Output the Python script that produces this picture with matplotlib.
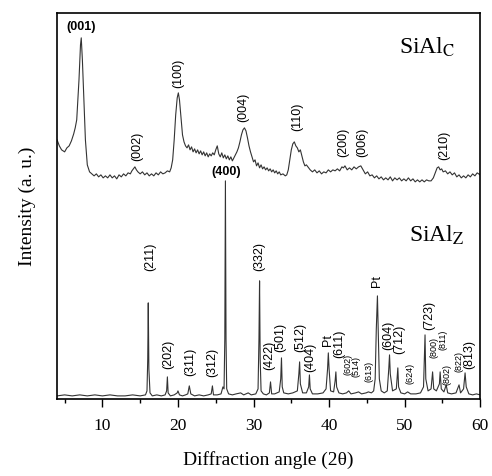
import matplotlib
matplotlib.use("Agg")
import matplotlib.pyplot as plt
import numpy as np
from matplotlib.ticker import MultipleLocator

plt.rcParams['mathtext.fontset'] = 'stix'

# SiAl_C pattern (2theta, intensity a.u.)
tt_c = [4.0, 4.3, 4.6, 5.0, 5.3, 5.6, 5.9, 6.2, 6.4, 6.6, 6.9, 7.1, 7.2, 7.35, 7.55, 7.75, 8.0, 8.3,
        8.6, 8.9, 9.2, 9.5, 9.8, 10.1, 10.4, 10.7, 11.0, 11.3, 11.6, 11.9, 12.2, 12.5, 12.8, 13.1,
        13.4, 13.7, 13.9, 14.1, 14.3, 14.5, 14.7, 15.0, 15.3, 15.6, 15.9, 16.2, 16.5, 16.8, 17.1,
        17.4, 17.7, 18.0, 18.3, 18.6, 18.9, 19.1, 19.3, 19.5, 19.7, 19.9, 20.05, 20.2, 20.4, 20.6,
        20.8, 21.0, 21.2, 21.4, 21.6, 21.8, 22.0, 22.2, 22.4, 22.6, 22.8, 23.0, 23.2, 23.4, 23.6,
        23.8, 24.0, 24.2, 24.4, 24.6, 24.8, 25.0, 25.2, 25.4, 25.6, 25.8, 26.0, 26.2, 26.4, 26.6,
        26.8, 27.0, 27.2, 27.4, 27.6, 27.8, 28.0, 28.2, 28.4, 28.6, 28.8, 29.0, 29.2, 29.4, 29.6,
        29.8, 30.0, 30.2, 30.4, 30.6, 30.8, 31.0, 31.2, 31.4, 31.6, 31.8, 32.0, 32.2, 32.4, 32.6,
        32.8, 33.0, 33.2, 33.4, 33.6, 33.9, 34.2, 34.4, 34.6, 34.8, 35.0, 35.2, 35.4, 35.6, 35.8,
        36.0, 36.2, 36.4, 36.6, 36.8, 37.0, 37.3, 37.5, 37.8, 38.1, 38.4, 38.7, 39.0, 39.3, 39.6,
        39.9, 40.2, 40.5, 40.8, 41.1, 41.4, 41.7, 41.9, 42.1, 42.4, 42.7, 43.0, 43.3, 43.6, 43.9,
        44.2, 44.5, 44.8, 45.1, 45.4, 45.7, 46.0, 46.3, 46.6, 46.9, 47.2, 47.5, 47.8, 48.1, 48.4,
        48.7, 49.0, 49.3, 49.6, 49.9, 50.2, 50.5, 50.8, 51.1, 51.4, 51.7, 52.0, 52.3, 52.6, 52.9,
        53.2, 53.5, 53.8, 54.1, 54.3, 54.5, 54.7, 54.9, 55.1, 55.4, 55.7, 56.0, 56.3, 56.6, 56.9,
        57.2, 57.5, 57.8, 58.1, 58.4, 58.7, 59.0, 59.3, 59.6, 60.0]
int_c = [259, 253, 249, 247, 251, 253, 258, 265, 271, 279, 319, 354, 361, 339, 299, 259, 234, 227,
         225, 223, 225, 222, 224, 221, 223, 221, 224, 221, 223, 220, 224, 222, 225, 223,
         226, 225, 228, 230, 232, 229, 227, 225, 227, 224, 226, 223, 225, 223, 226,
         224, 227, 225, 226, 228, 227, 231, 239, 259, 284, 301, 306, 299, 281, 264,
         257, 253, 251, 254, 249, 252, 247, 250, 246, 249, 245, 248, 244, 247, 243,
         246, 242, 245, 243, 246, 244, 249, 253, 245, 242, 246, 241, 244, 240, 243,
         239, 242, 238, 241, 244, 247, 251, 257, 264, 269, 271, 268, 261, 253, 247,
         242, 237, 239, 233, 236, 231, 234, 230, 232, 229, 231, 228, 230, 227, 229,
         226, 228, 225, 227, 224, 225, 223, 224, 229, 239, 249, 255, 257, 253, 251,
         247, 249, 243, 237, 233, 234, 231, 229, 227, 229, 226, 228, 225, 227, 226,
         229, 227, 229, 228, 230, 228, 232, 231, 233, 229, 231, 229, 232, 230, 232,
         233, 229, 225, 227, 223, 224, 221, 223, 220, 222, 219, 221, 219, 222, 218,
         221, 219, 221, 218, 220, 218, 221, 218, 220, 217, 219, 217, 219, 217, 219,
         218, 218, 221, 227, 231, 232, 229, 230, 227, 228, 225, 227, 224, 226, 222,
         224, 221, 223, 221, 224, 222, 225, 223, 226, 224]

# SiAl_Z pattern
tt_z = [4.0, 5.0, 6.0, 7.0, 8.0, 9.0, 10.0, 11.0, 12.0, 13.0, 14.0, 15.0, 15.7, 15.9, 16.0, 16.07,
        16.15, 16.3, 16.6, 17.2, 17.8, 18.3, 18.5, 18.6, 18.7, 19.0, 19.5, 19.9, 20.0, 20.2, 20.6,
        21.0, 21.3, 21.5, 21.7, 22.2, 22.8, 23.4, 24.0, 24.4, 24.56, 24.7, 25.2, 25.7, 25.95, 26.1,
        26.2, 26.28, 26.36, 26.45, 26.7, 27.2, 27.7, 28.3, 28.7, 29.3, 29.7, 30.3, 30.6, 30.72,
        30.8, 30.88, 31.0, 31.3, 31.7, 32.1, 32.25, 32.4, 32.8, 33.4, 33.6, 33.7, 33.8, 34.0, 34.6,
        35.2, 35.8, 36.0, 36.1, 36.2, 36.5, 37.0, 37.3, 37.4, 37.5, 37.8, 38.5, 39.2, 39.6, 39.8,
        39.9, 40.0, 40.2, 40.6, 40.8, 40.9, 41.0, 41.3, 41.8, 42.3, 42.6, 42.9, 43.5, 43.9, 44.3,
        44.9, 45.2, 45.6, 45.9, 46.1, 46.25, 46.4, 46.5, 46.65, 46.9, 47.3, 47.7, 47.9, 48.0, 48.1,
        48.4, 48.9, 49.1, 49.2, 49.5, 50.0, 50.4, 50.8, 51.5, 52.1, 52.5, 52.7, 52.8, 53.1, 53.5,
        53.7, 53.85, 54.2, 54.6, 54.7, 54.85, 55.2, 55.5, 55.7, 56.2, 56.8, 57.2, 57.4, 57.8, 58.0,
        58.15, 58.5, 59.0, 59.5, 60.0]
int_z = [3, 4, 3, 4, 3, 4, 3, 4, 3, 3, 4, 3, 4, 8, 40, 96,
         30, 6, 3, 4, 3, 4, 8, 22, 6, 3, 4, 6, 8, 4, 3,
         4, 5, 13, 5, 3, 4, 3, 4, 5, 13, 4, 4, 5, 12, 10,
         60, 218, 60, 10, 5, 4, 5, 6, 4, 6, 4, 5, 10, 60,
         118, 40, 8, 5, 4, 6, 17, 5, 5, 7, 20, 41, 12, 6, 5,
         6, 8, 25, 37, 15, 6, 6, 12, 24, 10, 5, 5, 6, 10, 30,
         46, 30, 8, 7, 18, 27, 12, 6, 5, 6, 8, 5, 6, 7, 5,
         6, 7, 6, 8, 20, 70, 103, 70, 20, 8, 6, 8, 30, 44, 25,
         8, 10, 31, 12, 6, 5, 7, 5, 5, 6, 12, 64, 20, 8, 10,
         27, 10, 8, 15, 27, 10, 7, 14, 6, 5, 6, 14, 6, 10, 26,
         12, 5, 4, 5, 4]

# reflection labels: text, 2theta, height
top_labels = [("(002)", 14.6, 252), ("(100)", 20.05, 325), ("(004)", 28.7, 291),
              ("(110)", 35.8, 282), ("(200)", 41.9, 256), ("(006)", 44.45, 256),
              ("(210)", 55.2, 253)]
bot_labels = [("(211)", 16.3, 142), ("(202)", 18.7, 45), ("(311)", 21.6, 37),
              ("(312)", 24.55, 36), ("(332)", 30.8, 142), ("(422)", 32.1, 44),
              ("(501)", 33.6, 61), ("(512)", 36.2, 61), ("(404)", 37.55, 42),
              ("Pt", 39.8, 59), ("(611)", 41.4, 55), ("Pt", 46.3, 118),
              ("(604)", 47.85, 64), ("(712)", 49.35, 60), ("(723)", 53.2, 83),
              ("(813)", 58.5, 44)]
small_labels = [("(602)", 42.5, 34), ("(514)", 43.5, 32), ("(613)", 45.25, 27),
                ("(624)", 50.7, 25), ("(800)", 53.9, 51), ("(811)", 55.1, 59),
                ("(802)", 55.6, 24), ("(822)", 57.2, 37)]

fig = plt.figure(figsize=(4.92, 4.76), dpi=100)
ax = fig.add_axes([0.116, 0.162, 0.86, 0.811])

ax.plot(tt_c, int_c, color='#333333', lw=0.8)
ax.plot(tt_z, int_z, color='#333333', lw=0.8)

lab = dict(family='Liberation Sans', ha='center', va='center', color='black')
ax.text(7.18, 372, "(001)", fontsize=9, fontweight='bold', **lab)
ax.text(26.4, 227, "(400)", fontsize=9, fontweight='bold', **lab)
for t, x, y in top_labels + bot_labels:
    ax.text(x, y, t, fontsize=9, rotation=90, **lab)
for t, x, y in small_labels:
    ax.text(x, y, t, fontsize=6.5, rotation=90, **lab)

ax.text(53.0, 352, r"SiAl$_{\mathrm{C}}$", fontsize=17, family='Liberation Serif',
        ha='center', va='center')
ax.text(54.3, 164, r"SiAl$_{\mathrm{Z}}$", fontsize=17, family='Liberation Serif',
        ha='center', va='center')

ax.set_xlim(4, 60)
ax.set_ylim(0, 386)
ax.set_yticks([])
ax.xaxis.set_major_locator(MultipleLocator(10))
ax.xaxis.set_minor_locator(MultipleLocator(5))
ax.tick_params(axis='x', which='major', length=6, width=1, direction='out',
               labelsize=12.5, pad=8)
ax.tick_params(axis='x', which='minor', length=3, width=1, direction='out')
for lbl in ax.get_xticklabels():
    lbl.set_family('Liberation Serif')
for s in ax.spines.values():
    s.set_linewidth(1.2)

ax.set_xlabel("Diffraction angle (2θ)", family='Liberation Serif', fontsize=14, labelpad=12)
ax.set_ylabel("Intensity (a. u.)", family='Liberation Serif', fontsize=14, labelpad=15)

fig.savefig("out.png", dpi=100)
